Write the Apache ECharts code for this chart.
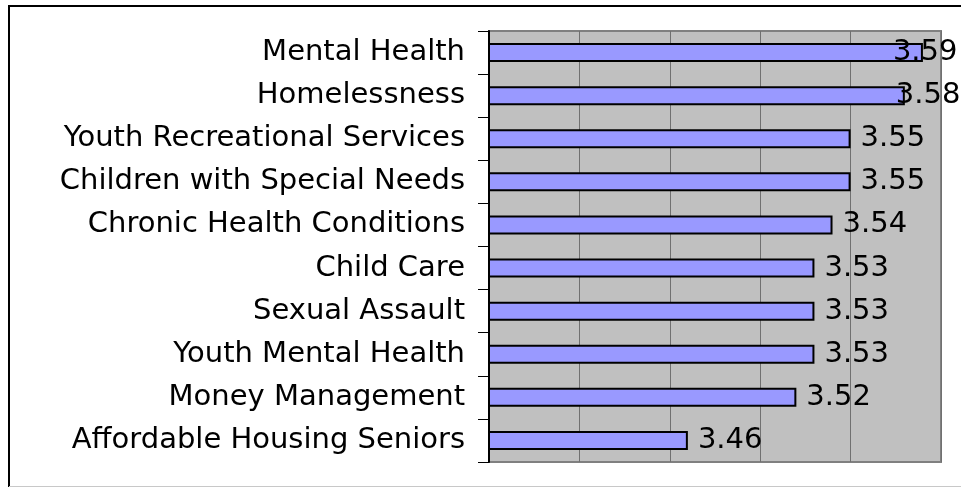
<!DOCTYPE html>
<html>
<head>
<meta charset="utf-8">
<script src="https://cdn.jsdelivr.net/npm/echarts@6/dist/echarts.min.js"></script>
<style>
html, body { margin: 0; padding: 0; background: #fff; }
#chart { width: 961px; height: 487px; }
</style>
</head>
<body>
<div id="chart"></div>
<script>
// top to bottom, as in the picture
var categories = [
    'Mental Health',
    'Homelessness',
    'Youth Recreational Services',
    'Children with Special Needs',
    'Chronic Health Conditions',
    'Child Care',
    'Sexual Assault',
    'Youth Mental Health',
    'Money Management',
    'Affordable Housing Seniors'
];
var scores = [3.59, 3.58, 3.55, 3.55, 3.54, 3.53, 3.53, 3.53, 3.52, 3.46];

var xMin = 3.35, xMax = 3.60, xStep = 0.05;

// labels of the two longest bars are pulled back inside the frame
var labelShift = { 0: -40, 1: -19 };

var textFont = 'DejaVu Sans';

var barData = scores.map(function (v, i) {
    var item = { value: v };
    if (labelShift[i] !== undefined) {
        item.label = { offset: [labelShift[i], 0] };
    }
    return item;
});

var chart = echarts.init(document.getElementById('chart'));
chart.setOption({
    backgroundColor: '#fff',
    animation: false,
    grid: {
        left: 489, right: 20, top: 31, bottom: 25,
        show: true,
        backgroundColor: '#c0c0c0',
        borderColor: '#808080',
        borderWidth: 2
    },
    xAxis: {
        type: 'value',
        min: xMin,
        max: xMax,
        interval: xStep,
        axisLabel: { show: false },
        axisLine: { show: false },
        axisTick: { show: false },
        splitLine: { show: true, lineStyle: { color: '#707070', width: 1 } }
    },
    yAxis: {
        type: 'category',
        data: categories,
        inverse: true,
        axisLine: { show: true, lineStyle: { color: '#000', width: 2 } },
        axisTick: { show: true, length: 11, lineStyle: { color: '#000', width: 1 } },
        axisLabel: {
            color: '#000',
            fontFamily: textFont,
            fontSize: 29,
            margin: 24
        }
    },
    series: [{
        type: 'bar',
        data: barData,
        barWidth: 19,
        itemStyle: { color: '#9999ff', borderColor: '#000', borderWidth: 2 },
        label: {
            show: true,
            position: 'right',
            distance: 10,
            color: '#000',
            fontFamily: textFont,
            fontSize: 29
        }
    }],
    graphic: [
        { type: 'line', shape: { x1: 9, y1: 5, x2: 9, y2: 487 }, style: { stroke: '#000', lineWidth: 2 } },
        { type: 'line', shape: { x1: 8, y1: 6, x2: 961, y2: 6 }, style: { stroke: '#000', lineWidth: 2 } },
        { type: 'line', shape: { x1: 9, y1: 486.5, x2: 961, y2: 486.5 }, style: { stroke: '#c8c8c8', lineWidth: 1 } }
    ]
});
</script>
</body>
</html>
